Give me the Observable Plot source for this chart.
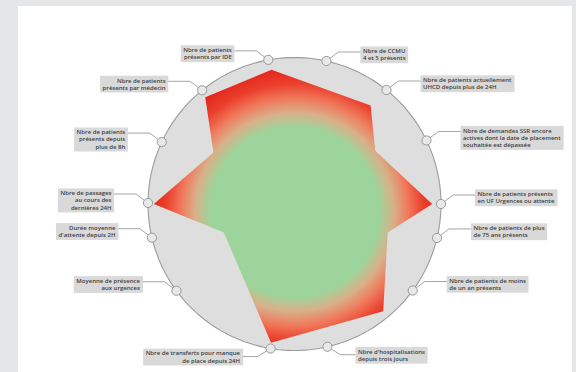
<!DOCTYPE html>
<html><head><meta charset="utf-8">
<script src="https://cdn.jsdelivr.net/npm/d3@7"></script>
<script src="https://cdn.jsdelivr.net/npm/@observablehq/plot@0.6"></script>
<style>
html,body{margin:0;padding:0;background:#e5e6e7;width:576px;height:372px;overflow:hidden;}
#panel{position:absolute;left:18px;top:6px;width:554px;height:366px;background:#fff;}
</style></head><body><div id="panel"></div>
<script>
// ---- data ----
const axisLabels = [
  "Nbre de patients\nprésents par IDE",
  "Nbre de CCMU\n4 et 5 présents",
  "Nbre de patients actuellement\nUHCD depuis plus de 24H",
  "Nbre de demandes SSR encore\nactives dont la date de placement\nsouhaitée est dépassée",
  "Nbre de patients présents\nen UF Urgences ou attente",
  "Nbre de patients de plus\nde 75 ans présents",
  "Nbre de patients de moins\nde un an présents",
  "Nbre d'hospitalisations\ndepuis trois jours",
  "Nbre de transferts pour manque\nde place depuis 24H",
  "Moyenne de présence\naux urgences",
  "Durée moyenne\nd'attente depuis 2H",
  "Nbre de passages\nau cours des\ndernières 24H",
  "Nbre de patients\nprésents depuis\nplus de 8h",
  "Nbre de patients\nprésents par médecin"
];
// axis directions, degrees clockwise from top
const axisAngles = [349.7, 12.6, 38.9, 64.3, 90, 103.4, 126.2, 167, 189.4, 233.7, 256.7, 270.4, 295, 320.9];
// red/green profile: direction (deg) and level (share of the outer circle)
const profileAngles = [350.3, 37.7, 56.6, 90, 107, 140.4, 189.6, 248.1, 270, 302.4, 320.1];
const profileValues = [0.93, 0.85, 0.66, 0.94, 0.665, 0.95, 0.96, 0.52, 0.96, 0.655, 0.95];

// ---- layout ----
const W = 554, H = 366, R = 146.5, CX = 276, CY = 197.5;
const rad = a => a * Math.PI / 180;
const u = p => p / R; // pixels -> data units
const lineH = 7.2;

const axes = axisLabels.map((label, i) => {
  const a = axisAngles[i];
  const x = Math.sin(rad(a)), y = Math.cos(rad(a));
  const side = x >= 0 ? 1 : -1;
  const bottom = y < -0.9;
  const by = bottom ? 8 : -9, bx = bottom ? 13 : 12, gap = bottom ? 28 : 34;
  const n = label.split("\n").length;
  const top = bottom ? by + 1 - n * lineH / 2 : by - lineH / 2 - 0.3;
  return {i, label, x, y, side,
    bend: [x + u(side * bx), y - u(by)],
    edge: [x + u(side * gap), y - u(by)],
    tx: x + u(side * (gap + 2.5)), ty: y - u(top)};
});
const leaders = axes.flatMap(d => [
  {i: d.i, x: d.x, y: d.y},
  {i: d.i, x: d.bend[0], y: d.bend[1]},
  {i: d.i, x: d.edge[0], y: d.edge[1]}
]);
const ring = d3.range(0, 360, 2).map(a => ({x: Math.sin(rad(a)), y: Math.cos(rad(a))}));
const profile = profileAngles.map((a, i) => ({
  x: profileValues[i] * Math.sin(rad(a)),
  y: profileValues[i] * Math.cos(rad(a))
}));

const textOpts = {x: "tx", y: "ty", text: "label", lineAnchor: "top", fontSize: 6,
  lineHeight: 1.2, fill: "#3d3d3d", fontWeight: 600, fontFamily: "Open Sans"};

const chart = Plot.plot({
  width: W, height: H, margin: 0,
  style: {fontFamily: "Open Sans", background: "transparent"},
  x: {domain: [-CX / R, (W - CX) / R], axis: null},
  y: {domain: [-(H - CY) / R, CY / R], axis: null},
  marks: [
    Plot.line(ring, {x: "x", y: "y", curve: "linear-closed", fill: "#dedede", stroke: "#9c9c9c", strokeWidth: 1.1}),
    Plot.line(profile, {x: "x", y: "y", curve: "linear-closed", fill: "url(#redgreen)", stroke: "none"}),
    Plot.line(leaders, {x: "x", y: "y", z: "i", stroke: "#8e8e8e", strokeWidth: 0.8}),
    Plot.dot(axes, {x: "x", y: "y", r: 4.6, fill: "#e8e8e8", stroke: "#9a9a9a", strokeWidth: 1}),
    Plot.text(axes.filter(d => d.side > 0), {...textOpts, textAnchor: "start"}),
    Plot.text(axes.filter(d => d.side < 0), {...textOpts, textAnchor: "end"})
  ]
});
document.getElementById("panel").appendChild(chart);

// radial gradient green centre -> red edge
const xs = chart.scale("x"), ys = chart.scale("y");
const defs = d3.select(chart).insert("defs", ":first-child");
const grad = defs.append("radialGradient").attr("id", "redgreen")
  .attr("gradientUnits", "userSpaceOnUse")
  .attr("cx", xs.apply(0)).attr("cy", ys.apply(u(-8))).attr("r", 146);
[[0, "#9dd49b"], [0.58, "#9dd49b"], [0.68, "#d9b089"], [0.78, "#f0785a"], [0.88, "#eb3f2c"], [1, "#e3231c"]]
  .forEach(([o, c]) => grad.append("stop").attr("offset", o).attr("stop-color", c));

// grey boxes behind the labels
chart.querySelectorAll('g[aria-label="text"] text').forEach(t => {
  const b = t.getBBox();
  const r = document.createElementNS("http://www.w3.org/2000/svg", "rect");
  r.setAttribute("x", b.x - 2.5); r.setAttribute("y", b.y - 0.8);
  r.setAttribute("width", b.width + 5); r.setAttribute("height", b.height + 1.6);
  r.setAttribute("fill", "#d9d9d9");
  if (t.getAttribute("transform")) r.setAttribute("transform", t.getAttribute("transform"));
  t.parentNode.insertBefore(r, t);
});
</script></body></html>
